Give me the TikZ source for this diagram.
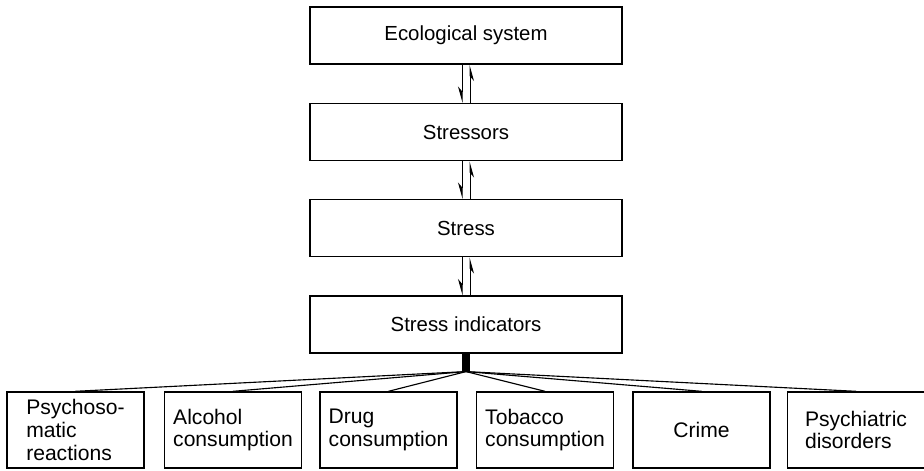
\documentclass[tikz,border=0pt]{standalone}
\usepackage{fontspec}
\setmainfont{Liberation Sans}
\usepackage{tikz}
\usetikzlibrary{arrows.meta, positioning}

\begin{document}
\begin{tikzpicture}[
    x=0.025cm, y=-0.025cm,
    box/.style={draw, line width=1pt, minimum width=7.8cm, minimum height=1.43cm, font=\fontsize{14.5}{17}\selectfont},
    sub/.style={draw, line width=1pt, minimum width=3.43cm, minimum height=1.9cm, align=left, font=\fontsize{15}{16.2}\selectfont},
    bar/.style={fill=black, inner sep=0pt, minimum width=0.2cm, minimum height=0.43cm},
    dn/.style={-{Stealth[right, length=3.6mm, width=2mm]}, line width=0.7pt},
    up/.style={-{Stealth[right, length=3.6mm, width=2mm]}, line width=0.7pt},
    fan/.style={line width=0.8pt},
]
    \useasboundingbox (0,0) rectangle (924,470);

    % main chain
    \node[box] (eco) at (466,35.5) {Ecological system};
    \node[box] (sor) at (466,132) {Stressors};
    \node[box] (str) at (466,228) {Stress};
    \node[box] (ind) at (466,324.5) {Stress indicators};

    \draw[dn] ([xshift=-0.1cm]eco.south) -- ([xshift=-0.1cm]sor.north);
    \draw[up] ([xshift=0.1cm]sor.north) -- ([xshift=0.1cm]eco.south);
    \draw[dn] ([xshift=-0.1cm]sor.south) -- ([xshift=-0.1cm]str.north);
    \draw[up] ([xshift=0.1cm]str.north) -- ([xshift=0.1cm]sor.south);
    \draw[dn] ([xshift=-0.1cm]str.south) -- ([xshift=-0.1cm]ind.north);
    \draw[up] ([xshift=0.1cm]ind.north) -- ([xshift=0.1cm]str.south);

    \node[bar, below=0pt of ind] (hub) {};

    % indicators
    \node[sub] (psy) at (75.5,430) {Psychoso-\\matic\\reactions};
    \node[sub] (alc) at (233,430) {Alcohol\\consumption};
    \node[sub] (drg) at (388.5,430) {Drug\\consumption};
    \node[sub] (tob) at (545,430) {Tobacco\\consumption};
    \node[sub, align=center] (crm) at (701.5,430) {Crime};
    \node[sub] (pdi) at (856,430) {Psychiatric\\disorders};

    \draw[fan] (hub.south) -- (psy.north);
    \draw[fan] (hub.south) -- (alc.north);
    \draw[fan] (hub.south) -- (drg.north);
    \draw[fan] (hub.south) -- (tob.north);
    \draw[fan] (hub.south) -- (crm.north);
    \draw[fan] (hub.south) -- (pdi.north);
\end{tikzpicture}
\end{document}
